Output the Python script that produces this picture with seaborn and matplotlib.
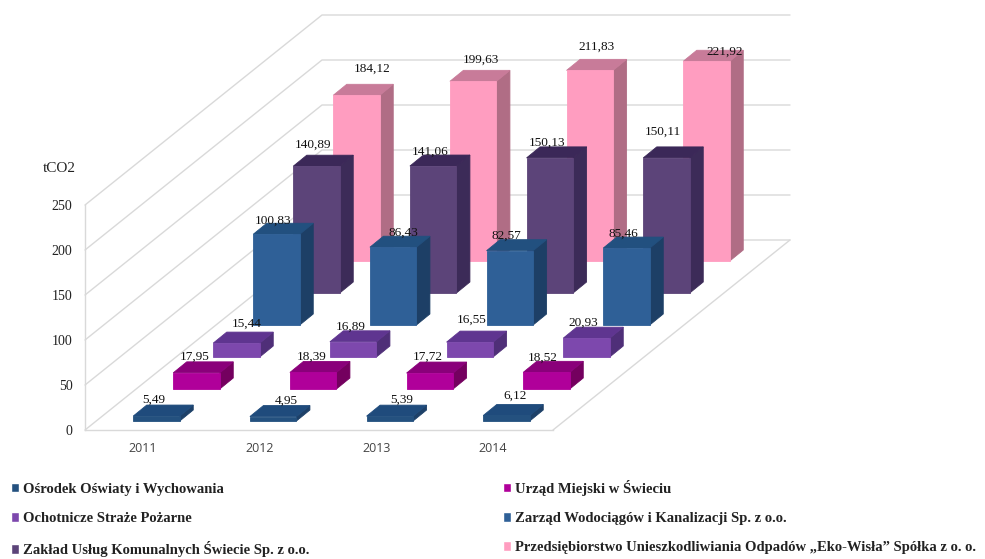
import matplotlib
matplotlib.use("Agg")
import matplotlib.pyplot as plt
from matplotlib.patches import Patch
import numpy as np
import pandas as pd
import seaborn as sns

years = ["2011", "2012", "2013", "2014"]
series = [
    "Ośrodek Oświaty i Wychowania",
    "Urząd Miejski w Świeciu",
    "Ochotnicze Straże Pożarne",
    "Zarząd Wodociągów i Kanalizacji Sp. z o.o.",
    "Zakład Usług Komunalnych Świecie Sp. z o.o.",
    "Przedsiębiorstwo Unieszkodliwiania Odpadów „Eko-Wisła” Spółka z o. o.",
]
osrodek = [5.49, 4.95, 5.39, 6.12]
urzad = [17.95, 18.39, 17.72, 18.52]
straze = [15.44, 16.89, 16.55, 20.93]
zarzad = [100.83, 86.43, 82.57, 85.46]
zaklad = [140.89, 141.06, 150.13, 150.11]
eko = [184.12, 199.63, 211.83, 221.92]
all_values = [osrodek, urzad, straze, zarzad, zaklad, eko]
yticks = [0, 50, 100, 150, 200, 250]

# styling: (front, side, top)
colors = [
    ("#24517f", "#1d4068", "#1f4b7c"),
    ("#b0009a", "#74005f", "#8a007a"),
    ("#7d48ad", "#4f2f78", "#5f3590"),
    ("#2f6097", "#1d3f66", "#22507f"),
    ("#5c4479", "#3c2b58", "#3b2858"),
    ("#ff9dc0", "#b06d85", "#c87b99"),
]
# label nudges in pixels (right, up), per series and year
nudges = [
    [(-2.5, 16), (13, 16), (12, 16), (8.5, 20)],
    [(-2, 16), (-2, 15.5), (-2, 16), (-3.5, 15)],
    [(10.5, 19), (-2, 15), (2, 22), (-3.5, 15)],
    [(-3.5, 14), (10, 14), (-3, 15), (-3.5, 14)],
    [(-3.5, 21), (-3, 14), (-3, 15), (-3.5, 26)],
    [(15.5, 27), (8, 22), (7, 24), (18.5, 10)],
]

W, H = 985, 559
PX_X, PX_Y = 116.67, 0.9          # pixels per x unit / per value unit
X0, Y0 = 156.5, 430               # pixel of x=0, value=0
def ux(px): return px / PX_X
def uy(px): return px / PX_Y

STEP_X, STEP_Y = ux(40), uy(32)   # shift of each depth row
BAR_W = ux(46.5)
SIDE_X, SIDE_Y = ux(13.5), uy(11) # bar depth
FLOOR_Y = uy(9)                   # lift of first row
WALL_L = ux(85 - X0)
WALL_R = ux(553 - X0)
BACK_X, BACK_Y = ux(237), uy(190)
GRID = "#d9d9d9"
SERIF = "Liberation Serif"

sns.set_theme(style="white")
plt.rcParams["font.family"] = SERIF

fig = plt.figure(figsize=(W / 100, H / 100), dpi=100)
ax = fig.add_axes([0, 0, 1, 1])
ax.patch.set_alpha(0)

# walls and floor
for t in yticks:
    ax.plot([WALL_L, WALL_L + BACK_X, WALL_R + BACK_X],
            [t, t + BACK_Y, t + BACK_Y], color=GRID, lw=1, zorder=0)
ax.plot([WALL_R, WALL_R + BACK_X], [0, BACK_Y], color=GRID, lw=1, zorder=0)

xs = np.arange(len(years), dtype=float)
for s in range(len(series) - 1, -1, -1):
    vals = np.array(all_values[s])
    px = xs + s * STEP_X
    base = FLOOR_Y + s * STEP_Y
    front, side, top = colors[s]
    df = pd.DataFrame({"x": px, "v": vals})
    for x, v in zip(px, vals):
        l, r = x - BAR_W / 2, x + BAR_W / 2
        ax.fill([r, r + SIDE_X, r + SIDE_X, r],
                [base, base + SIDE_Y, base + SIDE_Y + v, base + v],
                facecolor=side, edgecolor=side, lw=0.6, zorder=1)
        ax.fill([l, r, r + SIDE_X, l + SIDE_X],
                [base + v, base + v, base + v + SIDE_Y, base + v + SIDE_Y],
                facecolor=top, edgecolor=top, lw=0.6, zorder=1)
    sns.barplot(data=df, x="x", y="v", native_scale=True, bottom=base,
                width=BAR_W, color=front, saturation=1, errorbar=None,
                linewidth=0.6, edgecolor=front, legend=False, ax=ax, zorder=1)

for s, vals in enumerate(all_values):
    for i, v in enumerate(vals):
        ax.annotate(f"{v:.2f}".replace(".", ","),
                    xy=(xs[i] + s * STEP_X, FLOOR_Y + s * STEP_Y + v),
                    xytext=nudges[s][i], textcoords="offset pixels",
                    ha="center", va="center", fontsize=9.5,
                    color="#111111", zorder=5)

ax.set_xlim(ux(-X0), ux(W - X0))
ax.set_ylim(uy(Y0 - H), uy(Y0))
ax.set_xlabel("")
ax.set_ylabel("")

for name in ("top", "right"):
    ax.spines[name].set_visible(False)
ax.spines["left"].set_position(("data", WALL_L))
ax.spines["left"].set_bounds(0, 250)
ax.spines["bottom"].set_position(("data", 0))
ax.spines["bottom"].set_bounds(WALL_L, WALL_R)
for name in ("left", "bottom"):
    ax.spines[name].set_color(GRID)
    ax.spines[name].set_linewidth(1)

ax.set_yticks(yticks)
ax.set_yticklabels([str(t) for t in yticks], fontsize=10, color="#222222")
ax.tick_params(axis="y", length=0, pad=9)
ax.set_xticks(xs - ux(13.5))
ax.set_xticklabels(years, fontsize=9, color="#444444", family="Open Sans")
ax.tick_params(axis="x", length=0, pad=9)

ax.text(ux(59.5 - X0), uy(Y0 - 169), "tCO2", ha="center", va="center",
        fontsize=11, color="#222222")

order = [0, 2, 4, 1, 3, 5]
handles = [Patch(facecolor=colors[k][0], label=series[k]) for k in order]
fig.legend(handles=handles, ncols=2, loc="upper left",
           bbox_to_anchor=(11 / W, 1 - 480 / H), frameon=False,
           prop={"family": SERIF, "weight": "bold", "size": 10.5},
           handlelength=0.55, handleheight=0.6, handletextpad=0.25,
           labelspacing=1.1, columnspacing=13.3, borderpad=0, borderaxespad=0,
           labelcolor="#222222")

fig.savefig("out.png", dpi=100)
